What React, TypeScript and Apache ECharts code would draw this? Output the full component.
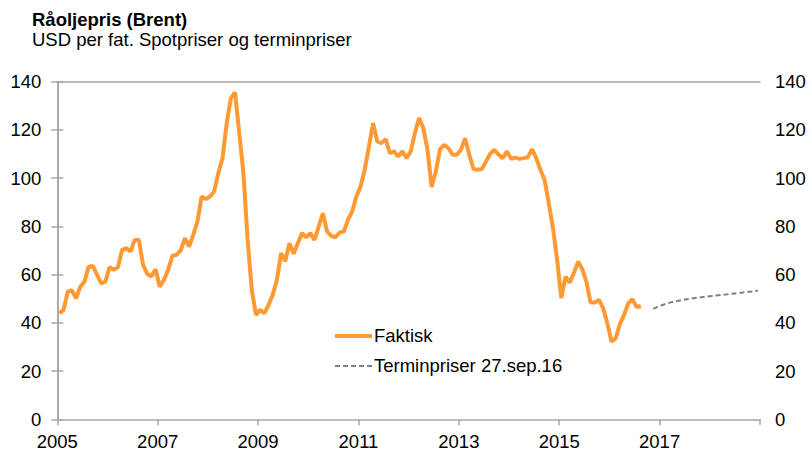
import React, { useEffect, useRef } from "react";
import * as echarts from "echarts";

const startYear = 2005;
const endYear = 2019;
const axisYears = [2005, 2007, 2009, 2011, 2013, 2015, 2017];

// Monthly Brent spot (USD per barrel), Jan each year onward
const spot2005 = [44.0, 45.4, 53.0, 53.4, 50.2, 55.0, 57.1, 63.3, 63.6, 59.9, 56.4, 57.1];
const spot2006 = [63.1, 62.0, 63.1, 70.3, 71.0, 69.6, 74.4, 74.4, 64.0, 60.3, 59.2, 62.2];
const spot2007 = [55.0, 57.8, 62.0, 67.8, 68.2, 70.0, 75.1, 71.6, 76.5, 82.0, 92.4, 91.3];
const spot2008 = [92.4, 94.5, 102.1, 108.3, 122.8, 133.2, 135.5, 118.7, 102.1, 74.4, 53.7, 43.3];
const spot2009 = [45.4, 44.0, 47.4, 51.6, 57.8, 68.9, 65.5, 73.0, 68.6, 73.0, 77.2, 75.5];
const spot2010 = [77.2, 74.4, 79.9, 85.5, 77.9, 76.1, 75.5, 77.4, 77.9, 82.7, 86.2, 92.4];
const spot2011 = [96.5, 103.5, 113.1, 122.8, 115.2, 114.5, 116.2, 110.4, 111.1, 109.0, 111.1, 108.3];
const spot2012 = [111.1, 118.7, 124.9, 120.8, 111.8, 96.3, 102.8, 112.0, 113.8, 112.5, 109.7, 109.7];
const spot2013 = [111.8, 116.6, 109.7, 103.8, 103.5, 103.8, 106.9, 110.1, 111.8, 109.7, 108.3, 111.1];
const spot2014 = [108.0, 108.5, 108.0, 108.3, 108.7, 112.0, 108.3, 103.5, 99.3, 89.6, 79.3, 66.1];
const spot2015 = [50.2, 59.2, 56.7, 60.6, 65.4, 62.3, 57.1, 48.4, 48.4, 49.5, 46.1, 39.8];
const spot2016 = [32.2, 33.6, 39.5, 43.3, 48.1, 49.8, 46.5, 47.0];

// Futures prices 27.sep.16, monthly from Nov 2016 to Dec 2018
const futuresStartMonth = 142; // months after Jan 2005 (Nov 2016)
const futures = [
  45.8, 46.6, 47.3, 47.9, 48.4, 48.8, 49.2, 49.5, 49.8, 50.1, 50.3, 50.5, 50.7,
  50.9, 51.1, 51.3, 51.5, 51.7, 51.9, 52.1, 52.3, 52.5, 52.7, 52.9, 53.1, 53.3,
];

const spot = [
  ...spot2005, ...spot2006, ...spot2007, ...spot2008, ...spot2009, ...spot2010,
  ...spot2011, ...spot2012, ...spot2013, ...spot2014, ...spot2015, ...spot2016,
];

const seriesNames = ["Faktisk", "Terminpriser 27.sep.16"];

const FONT = "'Liberation Sans', Arial, sans-serif";
const FS = 18.5;
const AXIS_COLOR = "#a6a6a6";
const ORANGE = "#FF9933";
const GREY = "#808080";

export default function App() {
  const ref = useRef<HTMLDivElement>(null);

  useEffect(() => {
    if (!ref.current) return;
    const chart = echarts.init(ref.current, undefined, { renderer: "svg" });

    const spotData = spot.map((v, i) => [(i + 0.5) / 12, v]);
    const futData = futures.map((v, i) => [(futuresStartMonth + i + 0.5) / 12, v]);

    const axisLineStyle = { color: AXIS_COLOR, width: 1.5 };
    const yBase = {
      type: "value" as const,
      min: 0,
      max: 140,
      interval: 20,
      axisLine: { show: true, lineStyle: axisLineStyle },
      axisTick: { show: true, length: 6, lineStyle: axisLineStyle },
      splitLine: { show: false },
    };

    chart.setOption({
      animation: false,
      backgroundColor: "#ffffff",
      textStyle: { fontFamily: FONT },
      graphic: [
        {
          type: "text",
          x: 32,
          y: 19.5,
          style: {
            text: "Råoljepris (Brent)",
            font: `bold ${FS}px ${FONT}`,
            fill: "#000",
            verticalAlign: "middle",
          },
        },
        {
          type: "text",
          x: 32,
          y: 39,
          style: {
            text: "USD per fat. Spotpriser og terminpriser",
            font: `${FS}px ${FONT}`,
            fill: "#000",
            verticalAlign: "middle",
          },
        },
        // legend
        {
          type: "line",
          shape: { x1: 335, y1: 336, x2: 372, y2: 336 },
          style: { stroke: ORANGE, lineWidth: 4 },
        },
        {
          type: "text",
          x: 374,
          y: 335.5,
          style: {
            text: seriesNames[0],
            font: `${FS}px ${FONT}`,
            fill: "#000",
            verticalAlign: "middle",
          },
        },
        {
          type: "line",
          shape: { x1: 335, y1: 366, x2: 372, y2: 366 },
          style: { stroke: GREY, lineWidth: 2, lineDash: [5, 3] },
        },
        {
          type: "text",
          x: 374,
          y: 365.5,
          style: {
            text: seriesNames[1],
            font: `${FS}px ${FONT}`,
            fill: "#000",
            verticalAlign: "middle",
          },
        },
      ],
      grid: {
        left: 57.3,
        right: 51,
        top: 81.7,
        bottom: 33.7,
        containLabel: false,
        outerBoundsMode: "none",
      },
      xAxis: [
        {
          type: "value",
          min: 0,
          max: endYear - startYear,
          interval: 2,
          position: "bottom",
          axisLine: { show: true, onZero: false, lineStyle: axisLineStyle },
          axisTick: { show: true, length: 6, lineStyle: axisLineStyle },
          axisLabel: {
            margin: 13,
            fontSize: FS,
            color: "#000",
            fontFamily: FONT,
            showMaxLabel: true,
            formatter: (v: number) => {
              const y = startYear + v;
              return axisYears.includes(y) ? String(y) : "";
            },
          },
          splitLine: { show: false },
        },
        {
          type: "value",
          min: 0,
          max: endYear - startYear,
          position: "top",
          axisLine: { show: true, onZero: false, lineStyle: axisLineStyle },
          axisTick: { show: false },
          axisLabel: { show: false },
          splitLine: { show: false },
        },
      ],
      yAxis: [
        {
          ...yBase,
          position: "left",
          axisLabel: { margin: 16, fontSize: FS, color: "#000", fontFamily: FONT },
        },
        {
          ...yBase,
          position: "right",
          axisLabel: { margin: 15, fontSize: FS, color: "#000", fontFamily: FONT },
        },
      ],
      series: [
        {
          name: seriesNames[0],
          type: "line",
          xAxisIndex: 0,
          yAxisIndex: 0,
          data: spotData,
          symbol: "none",
          lineStyle: { color: ORANGE, width: 4 },
          itemStyle: { color: ORANGE },
          z: 3,
        },
        {
          name: seriesNames[1],
          type: "line",
          xAxisIndex: 0,
          yAxisIndex: 0,
          data: futData,
          symbol: "none",
          lineStyle: { color: GREY, width: 2, type: [5, 3] },
          itemStyle: { color: GREY },
          z: 2,
        },
      ],
    });

    return () => chart.dispose();
  }, []);

  return (
    <div
      ref={ref}
      style={{ position: "absolute", left: 0, top: 0, width: 811, height: 453 }}
    />
  );
}
